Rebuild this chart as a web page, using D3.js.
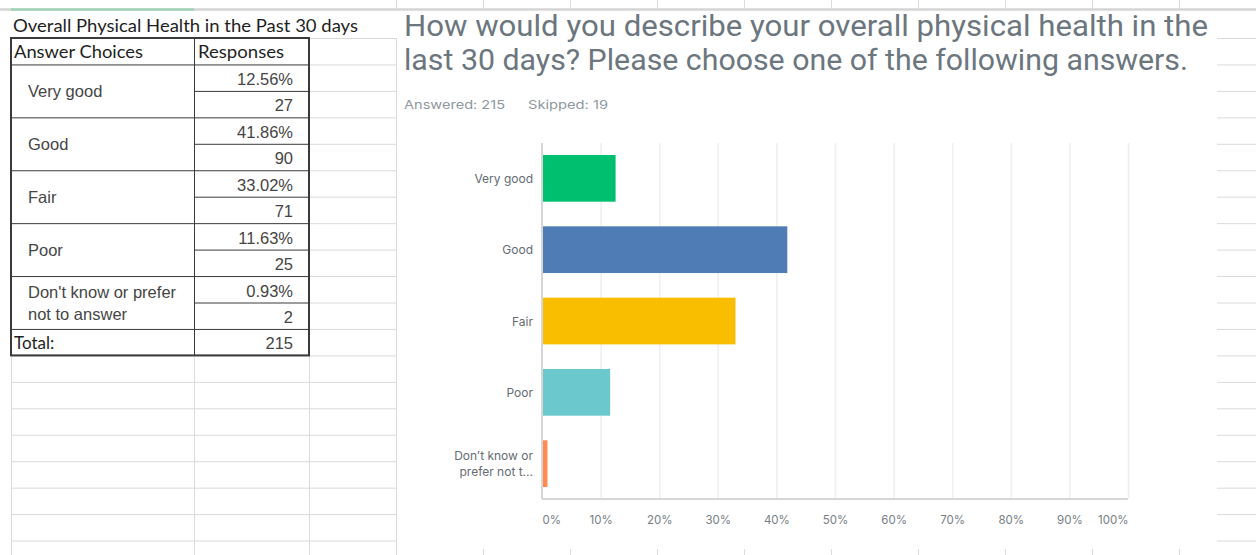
<!DOCTYPE html>
<html>
<head>
<meta charset="utf-8">
<script src="https://cdn.jsdelivr.net/npm/d3@7"></script>
<style>
  html, body { margin: 0; padding: 0; background: #ffffff; }
  svg { display: block; }
</style>
</head>
<body>
<div id="chart"></div>
<script>
// survey data
const categories = ['Very good', 'Good', 'Fair', 'Poor', "Don't know or prefer not to answer"];
const percents = [12.56, 41.86, 33.02, 11.63, 0.93];
const counts = [27, 90, 71, 25, 2];
const total = 215;
const skipped = 19;
const tableLabels = [['Very good'], ['Good'], ['Fair'], ['Poor'], ["Don't know or prefer", 'not to answer']];
const chartLabels = [['Very good'], ['Good'], ['Fair'], ['Poor'], ['Don’t know or', 'prefer not t...']];
const barColors = ['#00bf6f', '#507cb6', '#f9be00', '#6bc8cd', '#ff8b4f'];
const xTicks = [0, 10, 20, 30, 40, 50, 60, 70, 80, 90, 100];
const tableTitle = 'Overall Physical Health in the Past 30 days';
const chartTitle = ['How would you describe your overall physical health in the',
                    'last 30 days? Please choose one of the following answers.'];

const W = 1256, H = 555;
const svg = d3.select('#chart').append('svg')
  .attr('width', W).attr('height', H)
  .attr('viewBox', `0 0 ${W} ${H}`);

// ---- spreadsheet background grid ----
const rowH = 26.45;
const rowY = i => 38 + i * rowH;          // row line positions (i = 0 is table top)
const colX = [11, 194, 309, 396];
const grid = svg.append('g').attr('stroke', '#dadada').attr('stroke-width', 1);

// top header strip
svg.append('line').attr('x1', 0).attr('x2', W).attr('y1', 9.5).attr('y2', 9.5)
  .attr('stroke', '#d4d4d4').attr('stroke-width', 2.5);
svg.append('line').attr('x1', 11).attr('x2', 194).attr('y1', 9.5).attr('y2', 9.5)
  .attr('stroke', '#9fd4b8').attr('stroke-width', 2.5);

for (let i = 0; i <= 19; i++) {
  grid.append('line').attr('x1', 11).attr('x2', 396)
    .attr('y1', rowY(i) + 0.5).attr('y2', rowY(i) + 0.5);
  grid.append('line').attr('x1', 1217).attr('x2', W)
    .attr('y1', rowY(i) + 0.5).attr('y2', rowY(i) + 0.5);
}
colX.forEach(x => {
  grid.append('line').attr('x1', x + 0.5).attr('x2', x + 0.5).attr('y1', 38).attr('y2', H);
});
// column boundaries peeking above/below the pasted chart picture
d3.range(396, 1217, 87).forEach(x => {
  grid.append('line').attr('x1', x + 0.5).attr('x2', x + 0.5).attr('y1', 0).attr('y2', 9);
  grid.append('line').attr('x1', x + 0.5).attr('x2', x + 0.5).attr('y1', 549).attr('y2', H);
});

// ---- table ----
const tbl = svg.append('g');

tbl.append('text')
  .attr('x', 13).attr('y', 32)
  .attr('font-family', 'Lato, sans-serif').attr('font-size', 16.5)
  .attr('fill', '#1e1e1e')
  .attr('textLength', 345).attr('lengthAdjust', 'spacingAndGlyphs')
  .text(tableTitle);

// white cell background covers grid
tbl.append('rect').attr('x', 11).attr('y', rowY(0)).attr('width', 298).attr('height', rowY(12) - rowY(0))
  .attr('fill', '#fff');

const headerFont = 'Lato, sans-serif';
tbl.append('text').attr('x', 14).attr('y', rowY(1) - 6.5)
  .attr('font-family', headerFont).attr('font-size', 17).attr('fill', '#1e1e1e')
  .attr('textLength', 129).attr('lengthAdjust', 'spacingAndGlyphs')
  .text('Answer Choices');
tbl.append('text').attr('x', 198).attr('y', rowY(1) - 6.5)
  .attr('font-family', headerFont).attr('font-size', 17).attr('fill', '#1e1e1e')
  .attr('textLength', 86).attr('lengthAdjust', 'spacingAndGlyphs')
  .text('Responses');

const cellFont = '"Liberation Sans", Arial, sans-serif';
const valX = 293;
categories.forEach((c, i) => {
  const top = rowY(1 + i * 2);
  const mid = top + rowH;
  const lines = tableLabels[i];
  lines.forEach((ln, k) => {
    tbl.append('text')
      .attr('x', 28)
      .attr('y', mid + 6 + (k - (lines.length - 1) / 2) * 22)
      .attr('font-family', cellFont).attr('font-size', 16.5).attr('fill', '#454545')
      .text(ln);
  });
  tbl.append('text').attr('x', valX).attr('y', top + rowH - 6)
    .attr('text-anchor', 'end')
    .attr('font-family', cellFont).attr('font-size', 16.5).attr('fill', '#454545')
    .text(percents[i].toFixed(2) + '%');
  tbl.append('text').attr('x', valX).attr('y', top + 2 * rowH - 6)
    .attr('text-anchor', 'end')
    .attr('font-family', cellFont).attr('font-size', 16.5).attr('fill', '#454545')
    .text(counts[i]);
});
tbl.append('text').attr('x', 14).attr('y', rowY(12) - 6.5)
  .attr('font-family', headerFont).attr('font-size', 17).attr('fill', '#1e1e1e')
  .text('Total:');
tbl.append('text').attr('x', valX).attr('y', rowY(12) - 6)
  .attr('text-anchor', 'end')
  .attr('font-family', cellFont).attr('font-size', 16.5).attr('fill', '#454545')
  .text(total);

// table borders
const bord = tbl.append('g').attr('stroke', '#3a3a3a').attr('fill', 'none');
bord.append('line').attr('x1', 194.5).attr('x2', 194.5).attr('y1', rowY(0)).attr('y2', rowY(12))
  .attr('stroke-width', 1);
for (let r = 1; r <= 11; r++) {
  const full = r % 2 === 1;
  bord.append('line')
    .attr('x1', full ? 11 : 194).attr('x2', 309)
    .attr('y1', rowY(r) + 0.5).attr('y2', rowY(r) + 0.5)
    .attr('stroke-width', 1);
}
bord.append('rect').attr('x', 11).attr('y', rowY(0))
  .attr('width', 298).attr('height', rowY(12) - rowY(0))
  .attr('stroke-width', 2);

// ---- pasted chart picture ----
const pic = svg.append('g');
pic.append('rect').attr('x', 397).attr('y', 11).attr('width', 820).attr('height', 538).attr('fill', '#fff');

chartTitle.forEach((t, i) => {
  pic.append('text')
    .attr('x', 404).attr('y', 36 + i * 34)
    .attr('font-family', 'Roboto, sans-serif').attr('font-size', 29)
    .attr('fill', '#6b767e')
    .attr('textLength', i === 0 ? 804 : 784).attr('lengthAdjust', 'spacingAndGlyphs')
    .text(t);
});
pic.append('text').attr('x', 404).attr('y', 109)
  .attr('font-family', 'Inter, sans-serif').attr('font-size', 12).attr('fill', '#8e979d')
  .attr('textLength', 101).attr('lengthAdjust', 'spacingAndGlyphs')
  .text('Answered: ' + total);
pic.append('text').attr('x', 528).attr('y', 109)
  .attr('font-family', 'Inter, sans-serif').attr('font-size', 12).attr('fill', '#8e979d')
  .attr('textLength', 80).attr('lengthAdjust', 'spacingAndGlyphs')
  .text('Skipped: ' + skipped);

const x = d3.scaleLinear().domain([0, 100]).range([542, 1128]);
const y = d3.scaleBand().domain(categories).range([143, 499])
  .paddingInner(0.345).paddingOuter(0.168);

// vertical gridlines
pic.append('g')
  .attr('transform', 'translate(0,499)')
  .call(d3.axisBottom(x).tickValues(xTicks.slice(1)).tickSize(-356).tickFormat(''))
  .call(g => g.select('.domain').remove())
  .call(g => g.selectAll('line').attr('stroke', '#efefef').attr('stroke-width', 1.6));

// tick labels
const xAxis = pic.append('g')
  .attr('transform', 'translate(0,499)')
  .call(d3.axisBottom(x).tickValues(xTicks).tickSize(0).tickPadding(17).tickFormat(d => d + '%'));
xAxis.select('.domain').remove();
xAxis.selectAll('text')
  .attr('font-family', 'Inter, sans-serif').attr('font-size', 11.5)
  .attr('fill', '#767e84')
  .attr('text-anchor', d => d === 0 ? 'start' : d === 100 ? 'end' : 'middle');

// bars
pic.append('g').selectAll('rect')
  .data(categories)
  .join('rect')
  .attr('x', x(0))
  .attr('y', d => y(d))
  .attr('width', (d, i) => x(percents[i]) - x(0))
  .attr('height', y.bandwidth())
  .attr('fill', (d, i) => barColors[i]);

// axis lines
pic.append('line').attr('x1', x(0)).attr('x2', x(0)).attr('y1', 143).attr('y2', 499)
  .attr('stroke', '#d6d6d6').attr('stroke-width', 2);
pic.append('line').attr('x1', x(0)).attr('x2', x(100)).attr('y1', 499).attr('y2', 499)
  .attr('stroke', '#d6d6d6').attr('stroke-width', 2);

// category labels
const yl = pic.append('g');
categories.forEach((c, i) => {
  const lines = chartLabels[i];
  const cy = y(c) + y.bandwidth() / 2;
  lines.forEach((ln, k) => {
    yl.append('text')
      .attr('x', 533)
      .attr('y', cy + 4.5 + (k - (lines.length - 1) / 2) * 16.5)
      .attr('text-anchor', 'end')
      .attr('font-family', 'Inter, sans-serif').attr('font-size', 12)
      .attr('fill', '#646c72')
      .text(ln);
  });
});
</script>
</body>
</html>
